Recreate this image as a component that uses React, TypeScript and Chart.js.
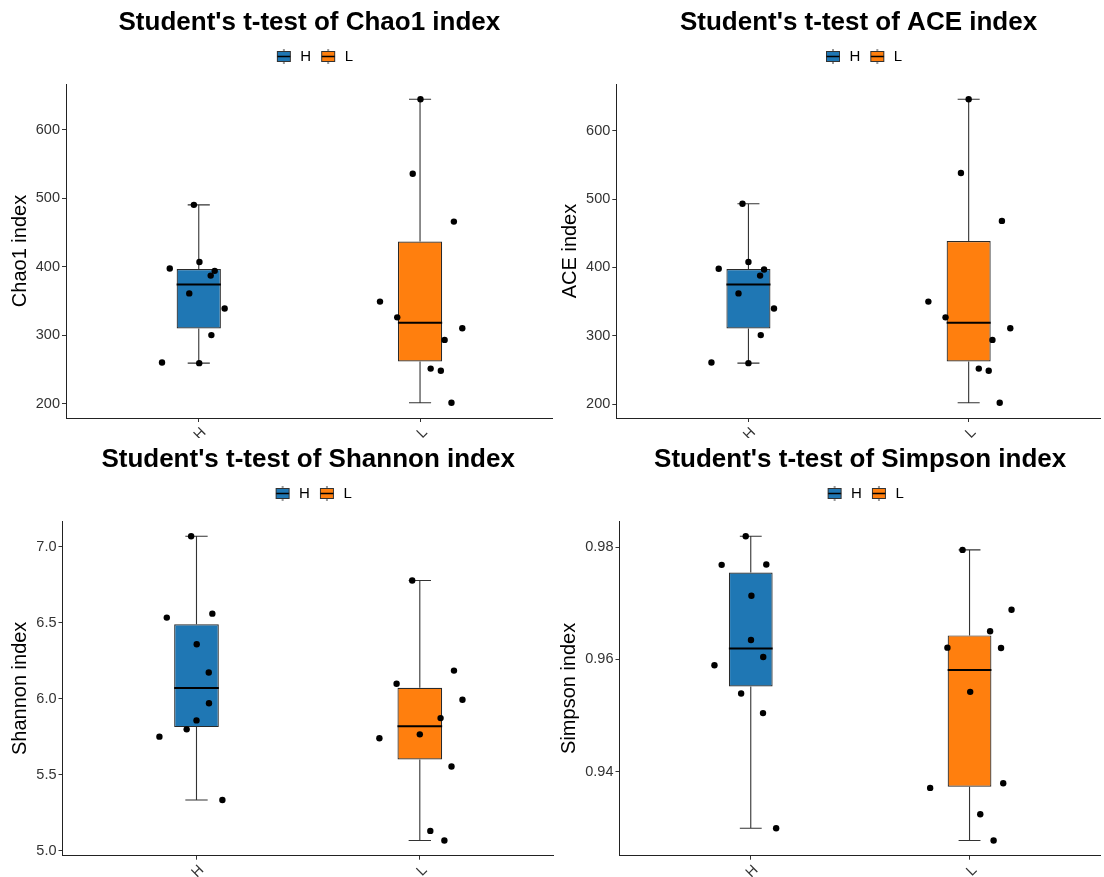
import React, { useEffect, useRef } from 'react';
import { Chart, registerables, layouts } from 'chart.js';

Chart.register(...registerables);

const FONT = '"Liberation Sans", Arial, Helvetica, sans-serif';

// ---------------- data ----------------
const groups = ['H', 'L'];
const groupColors = ['#1F77B4', '#FF7F0E'];

const chao1H = [490.5, 397.5, 407, 394, 387, 361, 339, 300, 260, 259];
const chao1HJitter = [-0.022, -0.131, 0.003, 0.072, 0.054, -0.043, 0.117, 0.057, -0.166, 0.002];
const chao1L = [645, 536, 466, 349, 326, 310, 293, 251, 248, 201];
const chao1LJitter = [0.002, -0.033, 0.153, -0.181, -0.103, 0.191, 0.111, 0.048, 0.094, 0.142];
const chao1Ticks = [200, 300, 400, 500, 600];

const aceH = [493, 398, 408, 397, 388, 362, 340, 301, 261, 260];
const aceHJitter = [-0.027, -0.135, 0, 0.071, 0.053, -0.045, 0.116, 0.056, -0.168, 0];
const aceL = [646, 538, 468, 350, 327, 311, 294, 252, 249, 202];
const aceLJitter = [0, -0.035, 0.151, -0.183, -0.105, 0.189, 0.108, 0.046, 0.091, 0.141];
const aceTicks = [200, 300, 400, 500, 600];

const shannonH = [7.07, 6.534, 6.56, 6.358, 6.172, 5.97, 5.857, 5.798, 5.75, 5.333];
const shannonHJitter = [-0.024, -0.133, 0.071, 0.001, 0.055, 0.056, 0, -0.044, -0.166, 0.116];
const shannonL = [6.778, 6.185, 6.098, 5.993, 5.872, 5.765, 5.739, 5.553, 5.129, 5.066];
const shannonLJitter = [-0.034, 0.153, -0.104, 0.191, 0.093, 0, -0.181, 0.142, 0.047, 0.11];
const shannonTicks = [5.0, 5.5, 6.0, 6.5, 7.0];

const simpsonH = [0.98196, 0.97686, 0.97692, 0.97134, 0.96347, 0.96044, 0.95897, 0.95392, 0.95043, 0.92992];
const simpsonHJitter = [-0.023, -0.133, 0.071, 0.003, 0.001, 0.057, -0.166, -0.044, 0.056, 0.116];
const simpsonL = [0.97952, 0.96885, 0.96501, 0.9621, 0.96204, 0.95422, 0.93792, 0.9371, 0.9324, 0.92773];
const simpsonLJitter = [-0.032, 0.192, 0.094, -0.101, 0.144, 0.003, 0.154, -0.18, 0.049, 0.11];
const simpsonTicks = [0.94, 0.96, 0.98];

// ---------------- helpers ----------------
function quantile(sorted: number[], p: number) {
  const pos = (sorted.length - 1) * p;
  const lo = Math.floor(pos);
  const hi = Math.ceil(pos);
  return sorted[lo] + (sorted[hi] - sorted[lo]) * (pos - lo);
}

function boxStats(vals: number[]) {
  const s = [...vals].sort((a, b) => a - b);
  const q1 = quantile(s, 0.25);
  const med = quantile(s, 0.5);
  const q3 = quantile(s, 0.75);
  const iqr = q3 - q1;
  const lo = s.find((v) => v >= q1 - 1.5 * iqr) as number;
  const hi = [...s].reverse().find((v) => v <= q3 + 1.5 * iqr) as number;
  return { q1, med, q3, lo, hi };
}

function makeIcon(fill: string) {
  const c = document.createElement('canvas');
  c.width = 16;
  c.height = 15;
  const g = c.getContext('2d') as CanvasRenderingContext2D;
  g.strokeStyle = '#333';
  g.lineWidth = 1;
  g.beginPath();
  g.moveTo(8, 0);
  g.lineTo(8, 15);
  g.stroke();
  g.fillStyle = fill;
  g.fillRect(1.5, 2.5, 13, 10);
  g.strokeRect(1.5, 2.5, 13, 10);
  g.strokeStyle = '#000';
  g.lineWidth = 1.5;
  g.beginPath();
  g.moveTo(1.5, 7.5);
  g.lineTo(14.5, 7.5);
  g.stroke();
  return c;
}

interface PanelProps {
  title: string;
  yLabel: string;
  h: number[];
  hJit: number[];
  l: number[];
  lJit: number[];
  ticks: number[];
  decimals: number;
  left: number;
  top: number;
  width: number;
  height: number;
  yAxisWidth: number;
  xAxisHeight: number;
  yTitleOffset: number;
}

function Panel(p: PanelProps) {
  const ref = useRef<HTMLCanvasElement>(null);

  useEffect(() => {
    const canvas = ref.current as HTMLCanvasElement;
    const all = [...p.h, ...p.l];
    const mn = Math.min(...all);
    const mx = Math.max(...all);
    const pad = (mx - mn) * 0.05;
    const stats = [boxStats(p.h), boxStats(p.l)];
    const icons = groupColors.map(makeIcon);
    const points = [
      ...p.h.map((v, i) => ({ x: 1 + p.hJit[i], y: v })),
      ...p.l.map((v, i) => ({ x: 2 + p.lJit[i], y: v })),
    ];

    const spacerPlugin = {
      id: 'legendSpacer',
      beforeInit(chart: any) {
        const box: any = {
          position: 'top',
          weight: 100,
          fullSize: false,
          options: {},
          top: 0, left: 0, right: 0, bottom: 0, width: 0, height: 0,
          isHorizontal() { return true; },
          update(maxWidth: number) { this.width = maxWidth; this.height = 10; },
          draw() {},
        };
        layouts.addBox(chart, box);
      },
      afterLayout(chart: any) {
        if (chart.legend) {
          chart.legend.left += 4.5;
          chart.legend.right += 4.5;
        }
      },
    };

    const whiskerPlugin = {
      id: 'boxWhiskers',
      beforeDatasetDraw(chart: any, args: any) {
        if (args.index !== 0) return;
        const ctx = chart.ctx;
        const xs = chart.scales.x;
        const ys = chart.scales.y;
        ctx.save();
        stats.forEach((s, i) => {
          const c = i + 1;
          const cx = xs.getPixelForValue(c);
          const capL = xs.getPixelForValue(c - 0.05);
          const capR = xs.getPixelForValue(c + 0.05);
          const bL = xs.getPixelForValue(c - 0.1);
          const bR = xs.getPixelForValue(c + 0.1);
          ctx.strokeStyle = '#333';
          ctx.lineWidth = 1.1;
          ctx.beginPath();
          ctx.moveTo(cx, ys.getPixelForValue(s.q3));
          ctx.lineTo(cx, ys.getPixelForValue(s.hi));
          ctx.moveTo(capL, ys.getPixelForValue(s.hi));
          ctx.lineTo(capR, ys.getPixelForValue(s.hi));
          ctx.moveTo(cx, ys.getPixelForValue(s.q1));
          ctx.lineTo(cx, ys.getPixelForValue(s.lo));
          ctx.moveTo(capL, ys.getPixelForValue(s.lo));
          ctx.lineTo(capR, ys.getPixelForValue(s.lo));
          ctx.stroke();
          ctx.strokeStyle = '#000';
          ctx.lineWidth = 2;
          ctx.beginPath();
          ctx.moveTo(bL, ys.getPixelForValue(s.med));
          ctx.lineTo(bR, ys.getPixelForValue(s.med));
          ctx.stroke();
        });
        ctx.restore();
      },
    };

    const barDataset = (i: number) => ({
      type: 'bar',
      label: groups[i],
      data: [{ x: i + 1, y: [stats[i].q1, stats[i].q3] }],
      backgroundColor: groupColors[i],
      borderColor: '#2a2a2a',
      borderWidth: 1.2,
      borderSkipped: false,
      grouped: false,
      barPercentage: 0.2,
      categoryPercentage: 1,
      order: 1,
    });

    const chart = new Chart(canvas, {
      type: 'bar',
      data: {
        datasets: [
          {
            type: 'scatter',
            label: 'points',
            data: points,
            backgroundColor: '#000',
            borderColor: '#000',
            borderWidth: 0,
            pointRadius: 3.2,
            pointHoverRadius: 3.2,
            order: 0,
          } as any,
          barDataset(0) as any,
          barDataset(1) as any,
        ],
      },
      options: {
        responsive: false,
        animation: false,
        devicePixelRatio: 1,
        events: [],
        layout: { padding: 0 },
        scales: {
          x: {
            type: 'linear',
            min: 0.4,
            max: 2.6,
            offset: false,
            afterBuildTicks: (s: any) => { s.ticks = groups.map((_, i) => ({ value: i + 1 })); },
            afterFit: (s: any) => { s.height = p.xAxisHeight; },
            grid: { display: true, offset: false, drawOnChartArea: false, drawTicks: true, tickLength: 4, color: '#333', lineWidth: 1 },
            border: { display: true, color: '#222', width: 1 },
            ticks: {
              autoSkip: false,
              minRotation: 45,
              maxRotation: 45,
              padding: 2,
              labelOffset: 5,
              font: { family: FONT, size: 14.5 },
              color: '#333',
              callback: (v: any) => groups[Math.round(Number(v)) - 1] ?? '',
            },
          },
          y: {
            type: 'linear',
            min: mn - pad,
            max: mx + pad,
            beginAtZero: false,
            afterBuildTicks: (s: any) => { s.ticks = p.ticks.map((v) => ({ value: v })); },
            afterFit: (s: any) => { s.width = p.yAxisWidth; },
            grid: { display: true, drawOnChartArea: false, drawTicks: true, tickLength: 4, color: '#333', lineWidth: 1 },
            border: { display: true, color: '#222', width: 1 },
            ticks: {
              padding: 2,
              font: { family: FONT, size: 14.5 },
              color: '#333',
              callback: (v: any) => Number(v).toFixed(p.decimals),
            },
            title: {
              display: true,
              text: p.yLabel,
              font: { family: FONT, size: 20 },
              color: '#000',
              padding: { top: p.yTitleOffset - 12, bottom: 0 },
            },
          },
        },
        plugins: {
          title: {
            display: true,
            text: p.title,
            fullSize: false,
            font: { family: FONT, size: 26, weight: 'bold' },
            color: '#000',
            padding: { top: 7, bottom: 2.8 },
          },
          legend: {
            display: true,
            position: 'top',
            fullSize: false,
            labels: {
              usePointStyle: true,
              pointStyleWidth: 18,
              padding: 8,
              font: { family: FONT, size: 15 },
              color: '#1a1a1a',
              generateLabels: () =>
                groups.map((g, i) => ({
                  text: g,
                  pointStyle: icons[i],
                  fillStyle: groupColors[i],
                  strokeStyle: '#333',
                  lineWidth: 0,
                  hidden: false,
                  datasetIndex: i + 1,
                })),
            },
          },
          tooltip: { enabled: false },
        },
      } as any,
      plugins: [spacerPlugin, whiskerPlugin] as any,
    });

    return () => chart.destroy();
  }, []);

  return (
    <canvas
      ref={ref}
      width={p.width}
      height={p.height}
      style={{ position: 'absolute', left: p.left, top: p.top, width: p.width, height: p.height }}
    />
  );
}

export default function App() {
  return (
    <div style={{ position: 'absolute', left: 0, top: 0, width: 1104, height: 877, background: '#fff', overflow: 'hidden' }}>
      <Panel
        title="Student's t-test of Chao1 index"
        yLabel="Chao1 index"
        h={chao1H} hJit={chao1HJitter} l={chao1L} lJit={chao1LJitter}
        ticks={chao1Ticks} decimals={0}
        left={0} top={0} width={556} height={438}
        yAxisWidth={66} xAxisHeight={20} yTitleOffset={20.5}
      />
      <Panel
        title="Student's t-test of ACE index"
        yLabel="ACE index"
        h={aceH} hJit={aceHJitter} l={aceL} lJit={aceLJitter}
        ticks={aceTicks} decimals={0}
        left={552} top={0} width={552} height={438}
        yAxisWidth={64.3} xAxisHeight={20} yTitleOffset={18.3}
      />
      <Panel
        title="Student's t-test of Shannon index"
        yLabel="Shannon index"
        h={shannonH} hJit={shannonHJitter} l={shannonL} lJit={shannonLJitter}
        ticks={shannonTicks} decimals={1}
        left={0} top={437} width={557} height={440}
        yAxisWidth={62.5} xAxisHeight={21.3} yTitleOffset={20.5}
      />
      <Panel
        title="Student's t-test of Simpson index"
        yLabel="Simpson index"
        h={simpsonH} hJit={simpsonHJitter} l={simpsonL} lJit={simpsonLJitter}
        ticks={simpsonTicks} decimals={2}
        left={552} top={437} width={552} height={440}
        yAxisWidth={67.5} xAxisHeight={21.3} yTitleOffset={17.2}
      />
    </div>
  );
}
